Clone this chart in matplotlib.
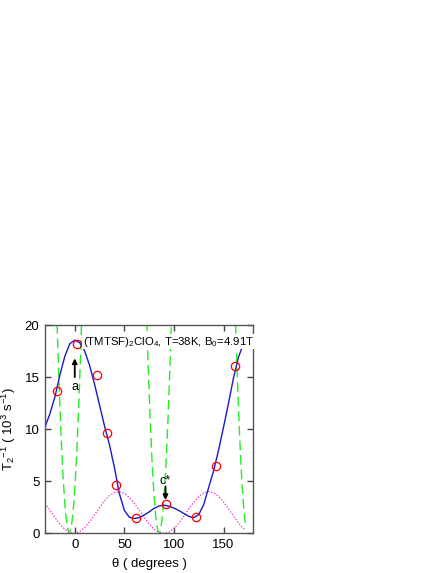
import matplotlib
matplotlib.use("Agg")
import matplotlib.pyplot as plt
import numpy as np

plt.rcParams['font.family'] = ['Liberation Sans', 'DejaVu Sans']
plt.rcParams['mathtext.fontset'] = 'custom'
plt.rcParams['mathtext.rm'] = 'Liberation Sans'
plt.rcParams['mathtext.default'] = 'regular'
plt.rcParams['lines.scale_dashes'] = False

# measured T2^-1 points (10^3 s^-1)
theta_pts = [-18, 2, 22, 32, 42, 62, 92, 122, 142, 162]
t2_pts = [13.7, 18.2, 15.2, 9.6, 4.6, 1.45, 2.8, 1.6, 6.5, 16.1]

# fit curve (blue, solid)
theta_fit = [-30, -25, -20, -15, -10, -5, 0, 5, 10, 15, 20, 25, 30, 35, 40, 45,
             50, 55, 60, 65, 70, 75, 80, 85, 90, 95, 100, 105, 110, 115, 120,
             125, 130, 135, 140, 145, 150, 155, 160, 165, 170, 172]
t2_fit = [10.2, 11.5, 13.1, 15.2, 17.0, 18.2, 18.55, 18.3, 17.5, 16.1, 14.3,
          12.3, 10.3, 8.5, 6.3, 3.8, 2.2, 1.55, 1.42, 1.5, 1.76, 2.05, 2.4,
          2.62, 2.7, 2.6, 2.42, 2.18, 1.9, 1.62, 1.5, 1.8, 2.75, 4.4, 6.0,
          8.0, 10.2, 12.5, 14.9, 16.9, 18.2, 18.5]

# magenta dotted curve
theta_pink = [-30, -25, -20, -15, -10, -5, 0, 5, 10, 15, 20, 25, 30, 35, 40,
              45, 50, 55, 60, 65, 70, 75, 80, 85, 90, 95, 100, 105, 110, 115,
              120, 125, 130, 135, 140, 145, 150, 155, 160, 165, 170, 172]
t2_pink = [2.88, 2.21, 1.52, 0.88, 0.38, 0.08, 0.01, 0.17, 0.56, 1.12, 1.79,
           2.48, 3.12, 3.62, 3.92, 4.0, 3.83, 3.44, 2.88, 2.21, 1.52, 0.88,
           0.38, 0.08, 0.01, 0.12, 0.47, 1.0, 1.65, 2.35, 3.0, 3.53, 3.88,
           4.0, 3.88, 3.53, 3.0, 2.35, 1.65, 1.0, 0.47, 0.31]

# green dashed curve (three visible dips, NaN between)
theta_green = [-20, -18, -16, -14, -12, -10, -8, -6, -4, -2, 0, 2, 4, 6, 8, 10,
               None,
               70, 72, 74, 76, 78, 80, 82, 84, 86, 88, 90, 92, 94, 96, 98, 100,
               None,
               158, 160, 162, 164, 166, 168, 170, 172]
t2_green = [27.1, 20.5, 14.8, 9.8, 5.8, 2.8, 0.87, 0.03, 0.31, 1.71, 4.19, 7.7,
            12.2, 17.6, 23.7, 30.5,
            None,
            28.75, 22.1, 16.1, 11.0, 6.7, 3.5, 1.25, 0.14, 0.14, 1.25, 3.5,
            6.7, 11.0, 16.1, 22.1, 28.75,
            None,
            34.1, 27.0, 20.5, 14.8, 9.8, 5.8, 2.8, 0.87]

xg = np.array([np.nan if v is None else v for v in theta_green], dtype=float)
yg = np.array([np.nan if v is None else v for v in t2_green], dtype=float)

fig = plt.figure(figsize=(4.43, 5.73), dpi=100)
ax = fig.add_axes([0.1016, 0.0693, 0.4702, 0.3635])

ax.plot(xg, yg, color='#22ee22', lw=1.0, dashes=(7, 3.5))
ax.plot(theta_pink, t2_pink, color='#ff33cc', lw=0.9, ls=(0, (1, 1.2)))
ax.plot(theta_fit, t2_fit, color='#1a1acc', lw=1.0)
ax.plot(theta_pts, t2_pts, 'o', mfc='none', mec='red', ms=6, mew=0.9)

ax.text(8, 18.4, '(TMTSF)$_2$ClO$_4$, T=38K, B$_0$=4.91T', fontsize=8.2,
        ha='left', va='center', zorder=10,
        bbox=dict(facecolor='white', edgecolor='none', pad=0.5))

arw = dict(arrowstyle='-|>', color='black', lw=1.3, mutation_scale=7,
           shrinkA=0, shrinkB=0)
ax.annotate('', xy=(0, 16.8), xytext=(0, 15.0), arrowprops=arw)
ax.text(0, 14.0, 'a', ha='center', va='center', fontsize=9)
ax.annotate('', xy=(91.5, 3.2), xytext=(91.5, 4.5), arrowprops=arw)
ax.text(91.5, 5.0, 'c*', ha='center', va='center', fontsize=9)

ax.set_xlim(-30, 180)
ax.set_ylim(0, 20)
ax.set_xticks([0, 50, 100, 150])
ax.set_yticks([0, 5, 10, 15, 20])
ax.tick_params(direction='in', top=True, right=True, length=4, width=1,
               labelsize=9.5, pad=4, color='#444444')
for s in ax.spines.values():
    s.set_color('#555555')
    s.set_linewidth(1.0)

ax.set_xlabel('θ ( degrees )', fontsize=9.5, labelpad=5)
ax.set_ylabel('T$_2$$^{-1}$ ( 10$^3$ s$^{-1}$)', fontsize=9.5, labelpad=5)

fig.savefig('out.png', dpi=100)
